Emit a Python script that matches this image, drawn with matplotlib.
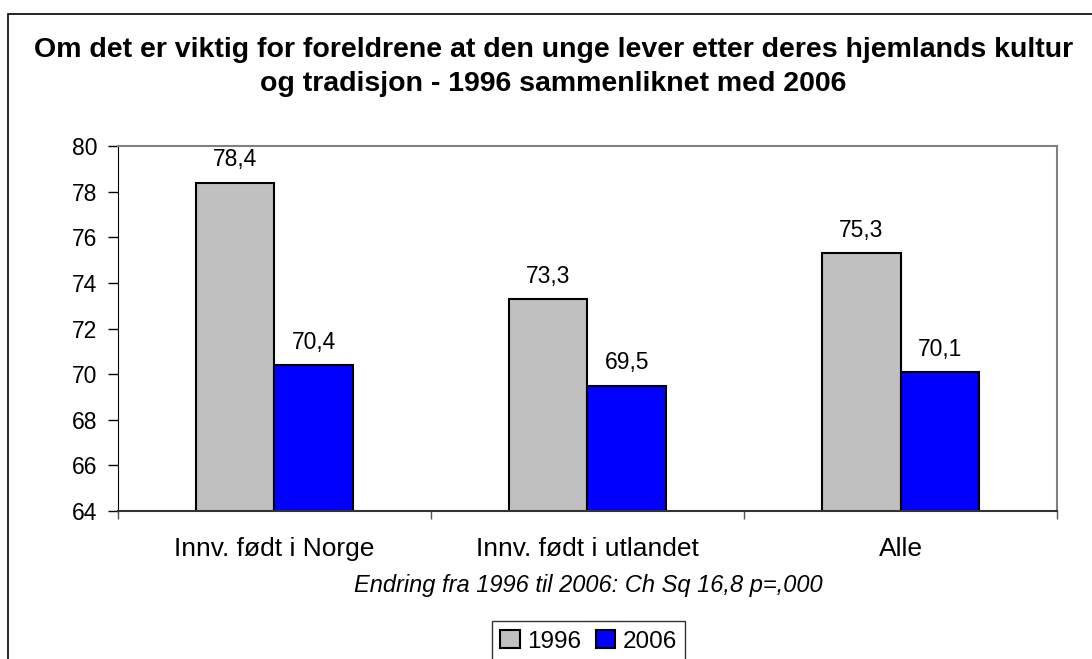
import matplotlib.pyplot as plt
import matplotlib.patches as mpatches
import numpy as np

plt.rcParams['font.family'] = ['Liberation Sans', 'DejaVu Sans']

categories = ['Innv. født i Norge', 'Innv. født i utlandet', 'Alle']
years = ['1996', '2006']
values_1996 = [78.4, 73.3, 75.3]
values_2006 = [70.4, 69.5, 70.1]
colors = ['#c0c0c0', '#0000ff']

fig = plt.figure(figsize=(10.92, 6.59), dpi=100)
ax = fig.add_axes([0.108, 0.2246, 0.860, 0.5534])

x = np.arange(len(categories))
w = 0.25
b1 = ax.bar(x - w / 2, values_1996, w, bottom=0, color=colors[0], edgecolor='black', linewidth=1.5, label=years[0])
b2 = ax.bar(x + w / 2, values_2006, w, bottom=0, color=colors[1], edgecolor='black', linewidth=1.5, label=years[1])

for bars in (b1, b2):
    for r in bars:
        v = r.get_height()
        ax.text(r.get_x() + r.get_width() / 2, v + 0.5, f"{v:.1f}".replace('.', ','),
                ha='center', va='bottom', fontsize=16.5)

ax.set_ylim(64, 80)
ax.set_xlim(-0.5, 2.5)
ax.set_yticks(range(64, 81, 2))
ax.tick_params(axis='y', labelsize=16.5, length=7, width=1, direction='out', pad=8)
ax.set_xticks([-0.5, 0.5, 1.5, 2.5], minor=False)
ax.set_xticklabels([])
ax.set_xticks(x, minor=True)
ax.set_xticklabels(categories, minor=True, fontsize=19)
ax.tick_params(axis='x', which='major', length=6, width=1, color='#555555')
ax.tick_params(axis='x', which='minor', length=0, pad=19)

for s in ['top', 'right']:
    ax.spines[s].set_color('#808080')
    ax.spines[s].set_linewidth(1.5)
ax.spines['left'].set_color('black')
ax.spines['bottom'].set_color('#333333')
ax.spines['bottom'].set_linewidth(1.5)

fig.text(0.507, 0.898, 'Om det er viktig for foreldrene at den unge lever etter deres hjemlands kultur\n'
         'og tradisjon - 1996 sammenliknet med 2006',
         ha='center', va='center', fontsize=20.5, fontweight='bold', linespacing=1.4)

fig.text(0.539, 0.112, 'Endring fra 1996 til 2006: Ch Sq 16,8 p=,000', ha='center', va='center',
         fontsize=17, style='italic')

handles = [mpatches.Patch(facecolor=c, edgecolor='black', linewidth=1.5, label=y) for c, y in zip(colors, years)]
leg = fig.legend(handles=handles, loc='center', bbox_to_anchor=(0.539, 0.027), ncol=2, fontsize=17.5,
                 frameon=True, fancybox=False, edgecolor='black', handlelength=0.8, handleheight=0.8,
                 handletextpad=0.3, columnspacing=0.6, borderpad=0.35)
leg.get_frame().set_linewidth(1)

fig.patches.append(mpatches.Rectangle((8 / 1092, -0.1), 1.2, (659 - 14) / 659 + 0.1, transform=fig.transFigure,
                                      fill=False, edgecolor='black', linewidth=1.2))

fig.savefig('out.png', dpi=100)
